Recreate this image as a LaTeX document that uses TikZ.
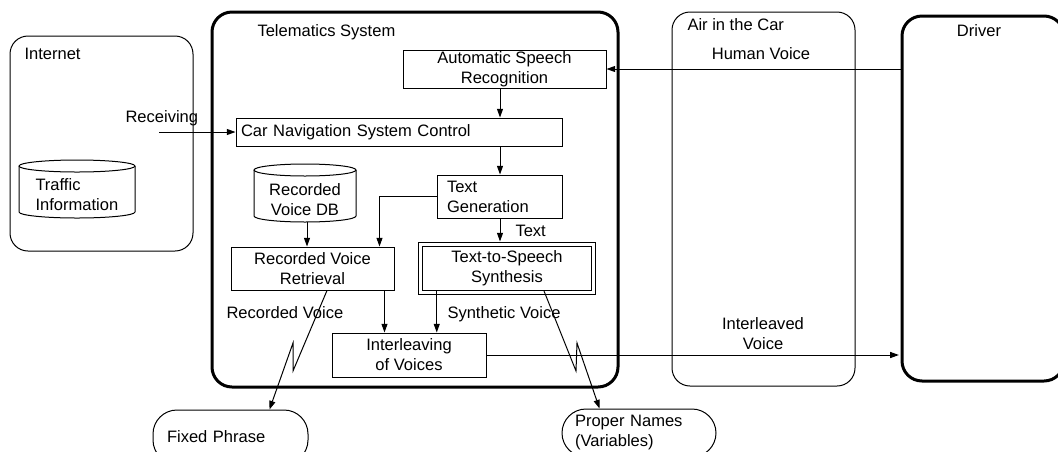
\documentclass[tikz,border=0pt]{standalone}
\usepackage{fontspec}
\setmainfont{Liberation Sans}
\usetikzlibrary{arrows.meta,calc}
\begin{document}
\begin{tikzpicture}[x=0.75pt,y=-0.75pt,
  font=\fontsize{12.4}{15}\selectfont, line width=0.75pt,
  box/.style={draw, rectangle, inner sep=0pt, align=center},
  lbl/.style={inner sep=0pt, text height=8.9pt, text depth=0pt},
  arr/.style={-{Triangle[length=6.5pt,width=4.5pt]}},
  region/.style={draw, rectangle, rounded corners=13.5pt, inner sep=0pt},
  heavy/.style={draw, rectangle, rounded corners=15pt, line width=2.25pt, inner sep=0pt},
  pill/.style={draw, rectangle, rounded corners=18pt, inner ysep=0pt, align=left}]
\useasboundingbox (0,0) rectangle (1058,451);
\clip (0,0) rectangle (1058,451);

% outer regions
\node[region, minimum width=137.25pt, minimum height=161.25pt] (internet) at (101.5,143.5) {};
\node[heavy, minimum width=304.5pt, minimum height=281.25pt] (telematics) at (415,199.5) {};
\node[region, minimum width=137.25pt, minimum height=280.5pt] (air) at (763.5,199) {};
\node[heavy, minimum width=121.5pt, minimum height=273.75pt] (driver) at (983,198.5) {};

\node[lbl, anchor=west] (internetlbl) at (24,54) {Internet};
\node[lbl, anchor=west] (telelbl) at (257,31) {Telematics System};
\node[lbl, anchor=west] (airlbl) at (687,25) {Air in the Car};
\node[lbl] (driverlbl) at (979,31) {Driver};

% traffic information store
\draw (19,166) -- (19,212) arc[start angle=180, end angle=360, x radius=43.5pt, y radius=4.5pt] -- (135,166);
\draw (77,166) ellipse [x radius=43.5pt, y radius=4.5pt];
\node[inner sep=0pt, align=left, anchor=west] (traffic) at (35,194.5) {Traffic\\Information};

% recorded voice database
\draw (254,170) -- (254,216) arc[start angle=180, end angle=360, x radius=38.25pt, y radius=4.5pt] -- (356,170);
\draw (305,170) ellipse [x radius=38.25pt, y radius=4.5pt];
\node[inner sep=0pt, align=center] (db) at (305,199.5) {Recorded\\Voice DB};
\coordinate (dbout) at (307,222);

% processing blocks
\node[box, minimum width=152.25pt, minimum height=28.5pt] (asr) at (504.5,69) {Automatic Speech\\Recognition};
\node[box, text width=237pt, inner xsep=3.75pt, minimum height=21pt, align=left] (carnav) at (399,132) {Car Navigation System Control};
\node[box, text width=78.75pt, inner xsep=7.5pt, minimum height=32.25pt, align=left] (textgen) at (499.5,196.5) {Text\\Generation};
\node[box, minimum width=122.25pt, minimum height=32.25pt] (rvr) at (312.5,268.5) {Recorded Voice\\Retrieval};
\node[box, double, double distance=2.25pt, minimum width=130.125pt, minimum height=36pt] (tts) at (507,268.5) {Text-to-Speech\\Synthesis};
\node[box, minimum width=115.5pt, minimum height=33pt] (iov) at (409,355) {Interleaving\\of Voices};

% outputs
\node[pill, minimum width=116.25pt, minimum height=40.5pt, text width=95.25pt, inner xsep=10.5pt] (fixed) at (230.5,437) {Fixed Phrase};
\node[pill, minimum width=115.5pt, minimum height=36pt, text width=96pt, inner xsep=9.75pt] (proper) at (639,433) {Proper Names\\(Variables)};

% connector labels
\node[lbl, anchor=west] (recvlbl) at (125,117) {Receiving};
\node[lbl] (humanlbl) at (761,54) {Human Voice};
\node[inner sep=0pt, align=center] (ilvlbl) at (763,334) {Interleaved\\Voice};
\node[lbl, anchor=west] (textlbl) at (515,231) {Text};
\node[lbl, anchor=west] (reclbl) at (226,313) {Recorded Voice};
\node[lbl, anchor=west] (synlbl) at (447,313) {Synthetic Voice};

% connectors
\coordinate (recvin) at (159,132);
\coordinate (spine) at (500,0);
\coordinate (rvrin) at ($(rvr.north east)+(-15,0)$);
\coordinate (rvrout) at ($(rvr.south east)+(-10,0)$);
\coordinate (ttsout) at ($(tts.south west)+(17,-2)$);

\draw[arr] (recvin) -- (carnav.west);
\draw[arr] (driver.west |- asr.east) -- (asr.east);
\draw[arr] (asr.south -| spine) -- (carnav.north -| spine);
\draw[arr] (carnav.south -| spine) -- (textgen.north -| spine);
\draw[arr, shorten >=1.9pt] (textgen.south -| spine) -- (tts.north -| spine);
\draw[arr] (textgen.west) -| (rvrin);
\draw[arr] (dbout) -- (dbout |- rvr.north);
\draw[arr] (rvrout) -- (rvrout |- iov.north);
\draw[arr] (ttsout) -- (ttsout |- iov.north);
\draw[arr, shorten >=1.2pt] (iov.east) -- (iov.east -| driver.west);

% breaks in the voice streams
\draw[arr] ($(rvr.south)+(14.5,0)$) -- (293,371) -- (293,343) -- ($(fixed.north west)+(117,0)$);
\draw[arr] ($(tts.south)+(37,-2)$) -- (576,371) -- (577,343) -- ($(proper.north west)+(38,0)$);
\end{tikzpicture}
\end{document}
